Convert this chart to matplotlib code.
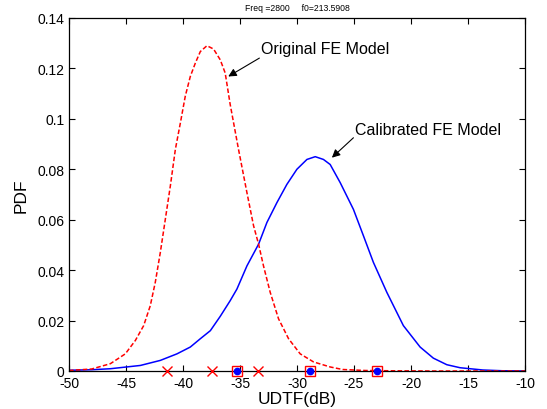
import matplotlib
matplotlib.use("Agg")
import matplotlib.pyplot as plt

plt.rcParams['font.family'] = ['Liberation Sans', 'DejaVu Sans']
plt.rcParams['axes.unicode_minus'] = False

# Original FE model PDF (red dashed)
orig_x = [-50, -48.0, -46.37, -45.06, -44.18, -43.45, -42.87, -42.43, -41.99, -41.55,
          -41.11, -40.67, -40.23, -39.8, -39.36, -38.92, -38.48, -37.9, -37.32, -36.73,
          -36.3, -35.86, -35.13, -34.39, -33.81, -33.37, -32.94, -32.35, -31.62, -30.74,
          -29.72, -28.55, -27.09, -26.0, -24.0, -22.0, -18.0, -10.0]
orig_y = [0.0002, 0.0008, 0.0029, 0.0068, 0.0121, 0.018, 0.0259, 0.0352, 0.047, 0.0602,
          0.0734, 0.0879, 0.0984, 0.109, 0.1168, 0.1221, 0.1267, 0.129, 0.1277, 0.1234,
          0.1182, 0.1057, 0.0879, 0.0707, 0.0576, 0.0503, 0.0417, 0.0312, 0.0207, 0.0128,
          0.0068, 0.0036, 0.0016, 0.0006, 0.0002, 0.0001, 0.0, 0.0]

# Calibrated FE model PDF (blue solid)
cal_x = [-50, -48.0, -46.37, -43.74, -41.99, -40.53, -39.36, -38.48, -37.6, -36.73,
         -35.86, -35.27, -34.39, -33.37, -32.64, -31.76, -30.89, -30.01, -29.13, -28.4,
         -27.68, -27.09, -26.21, -25.05, -24.17, -23.3, -22.12, -20.67, -19.2, -18.04,
         -16.86, -15.7, -13.7, -12.0, -10.0]
cal_y = [0.0003, 0.0005, 0.0009, 0.0022, 0.0042, 0.0068, 0.0095, 0.0128, 0.016, 0.0217,
         0.0279, 0.0325, 0.0417, 0.0503, 0.0589, 0.0668, 0.074, 0.08, 0.0839, 0.085,
         0.0839, 0.0819, 0.0747, 0.0641, 0.0536, 0.0431, 0.0312, 0.018, 0.0095, 0.0051,
         0.0025, 0.0013, 0.0004, 0.0001, 0.0]

# Sample points on the x axis
cross_x = [-41.4, -37.5, -33.4]
square_x = [-35.3, -28.9, -23.0]

fig = plt.figure(figsize=(5.47, 4.10), dpi=100)
ax = fig.add_axes([69/547, 38/410, 456/547, 353/410])

ax.plot(cal_x, cal_y, color='blue', lw=1.1)
ax.plot(orig_x, orig_y, color='red', lw=1.1, ls=(0, (3, 1.5)))
ax.plot(cross_x, [0]*len(cross_x), 'x', color='red', ms=7, mew=1.0, clip_on=False, zorder=5)
ax.plot(square_x, [0]*len(square_x), 's', mfc='none', mec='red', ms=7, mew=1.0, clip_on=False, zorder=5)
ax.plot(square_x, [0]*len(square_x), 'o', color='blue', ms=4.5, clip_on=False, zorder=6)

ax.set_xlim(-50, -10)
ax.set_ylim(0, 0.14)
ax.set_xticks(range(-50, -9, 5))
ax.set_yticks([0, 0.02, 0.04, 0.06, 0.08, 0.1, 0.12, 0.14])
ax.set_yticklabels(['0', '0.02', '0.04', '0.06', '0.08', '0.1', '0.12', '0.14'])
ax.tick_params(direction='in', top=True, right=True, labelsize=10, length=4, width=0.8)
for s in ax.spines.values():
    s.set_linewidth(0.9)

ax.set_xlabel('UDTF(dB)', fontsize=12.5, labelpad=1)
ax.set_ylabel('PDF', fontsize=12.5, labelpad=6)
ax.set_title('Freq =2800     f0=213.5908', fontsize=6.2, pad=6)

# Annotations: text + separate arrow
ax.text(-33.14, 0.1278, 'Original FE Model', fontsize=11.5, va='center', ha='left')
ax.annotate('', xy=(-36.03, 0.1168), xytext=(-33.3, 0.1241),
            arrowprops=dict(arrowstyle='-|>', color='black', lw=0.8, mutation_scale=12,
                            shrinkA=0, shrinkB=0))
ax.text(-24.9, 0.0958, 'Calibrated FE Model', fontsize=11.5, va='center', ha='left')
ax.annotate('', xy=(-26.94, 0.0846), xytext=(-25.05, 0.0925),
            arrowprops=dict(arrowstyle='-|>', color='black', lw=0.8, mutation_scale=12,
                            shrinkA=0, shrinkB=0))

fig.savefig('out.png', dpi=100)
